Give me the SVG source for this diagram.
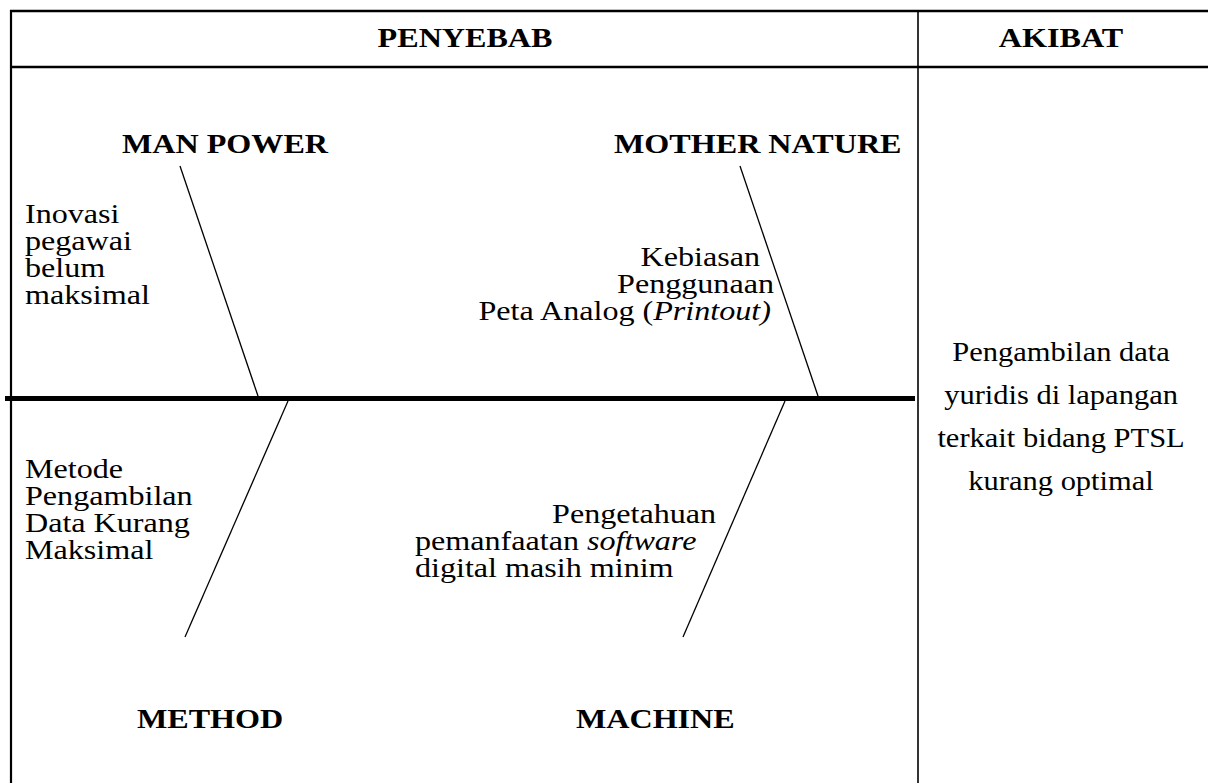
<svg xmlns="http://www.w3.org/2000/svg" width="1208" height="783" viewBox="0 0 1208 783" font-family="'Liberation Serif', 'Times New Roman', Times, serif">
<style>
text{font-family:'Liberation Serif','Times New Roman',Times,serif;font-size:27px;fill:#000}
.b{font-weight:bold}
.i{font-style:italic}
.m{text-anchor:middle}
.e{text-anchor:end}
.bone{stroke:#000;stroke-width:1.3;fill:none}
.grid{stroke:#000;fill:none}
</style>
<rect width="1208" height="783" fill="#fff"/>
<g id="table">
<line class="grid" x1="10" y1="11" x2="1208" y2="11" stroke-width="2.5"/>
<line class="grid" x1="10" y1="67" x2="1208" y2="67" stroke-width="2.5"/>
<line class="grid" x1="11" y1="10" x2="11" y2="783" stroke-width="2.2"/>
<line class="grid" x1="918" y1="10" x2="918" y2="783" stroke-width="1.6"/>
</g>
<g id="connectors">
<line x1="5" y1="398.5" x2="915" y2="398.5" stroke="#000" stroke-width="5"/>
<line class="bone" x1="180" y1="166" x2="258" y2="396"/>
<line class="bone" x1="740" y1="166" x2="818" y2="396"/>
<line class="bone" x1="288" y1="401" x2="185" y2="637"/>
<line class="bone" x1="785" y1="401" x2="683" y2="637"/>
</g>
<g transform="scale(1.19 1)">
<g id="header-penyebab"><text class="b m" x="390.8" y="47">PENYEBAB</text></g>
<g id="header-akibat"><text class="b m" x="891.6" y="47">AKIBAT</text></g>
<g id="man-power">
<text class="b" x="102.5" y="153">MAN POWER</text>
<text x="21" y="223">Inovasi</text>
<text x="21" y="250">pegawai</text>
<text x="21" y="277">belum</text>
<text x="21" y="304">maksimal</text>
</g>
<g id="mother-nature">
<text class="b" x="516" y="153">MOTHER NATURE</text>
<text class="e" x="638.7" y="266">Kebiasan</text>
<text class="e" x="650.4" y="293">Penggunaan</text>
<text class="e" x="647.9" y="320">Peta Analog (<tspan class="i">Printout)</tspan></text>
</g>
<g id="method">
<text x="21" y="478">Metode</text>
<text x="21" y="505">Pengambilan</text>
<text x="21" y="532">Data Kurang</text>
<text x="21" y="559">Maksimal</text>
<text class="b" x="115.1" y="728">METHOD</text>
</g>
<g id="machine">
<text x="463.9" y="523">Pengetahuan</text>
<text x="348.7" y="550">pemanfaatan <tspan class="i">software</tspan></text>
<text x="348.7" y="577">digital masih minim</text>
<text class="b" x="484" y="728">MACHINE</text>
</g>
</g>
<g id="akibat" transform="scale(1.13 1)">
<text class="m" x="939" y="361">Pengambilan data</text>
<text class="m" x="939" y="404">yuridis di lapangan</text>
<text class="m" x="939" y="447">terkait bidang PTSL</text>
<text class="m" x="939" y="490">kurang optimal</text>
</g>
</svg>
